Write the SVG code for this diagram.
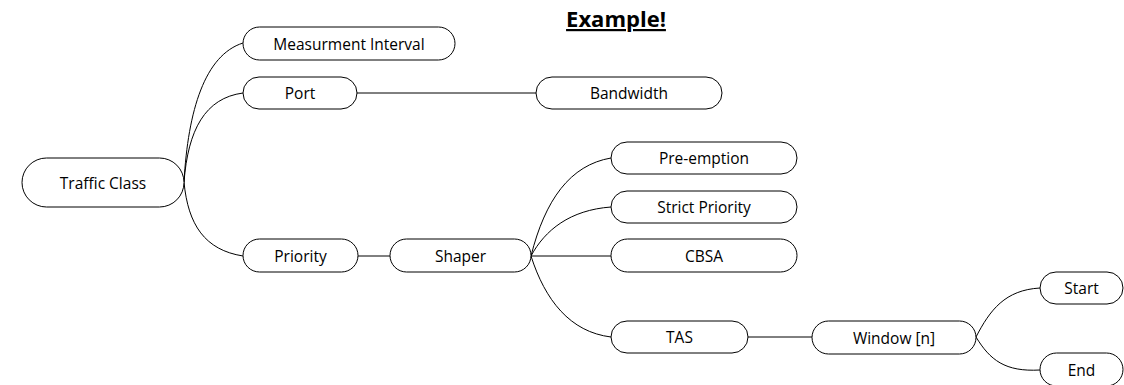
<svg xmlns="http://www.w3.org/2000/svg" width="1124" height="385" viewBox="0 0 1124 385">
  <style>
    .node rect { fill: #ffffff; stroke: #000000; stroke-width: 1; }
    .node text { font-family: "Open Sans", "Liberation Sans", sans-serif; font-size: 15.5px; fill: #000000; text-anchor: middle; dominant-baseline: central; }
    #connectors path, #connectors line { fill: none; stroke: #000000; stroke-width: 1; }
    .title { font-family: "Open Sans", "Liberation Sans", sans-serif; font-size: 22px; font-weight: bold; text-decoration: underline; text-anchor: middle; fill: #000000; }
  </style>
  <rect width="1124" height="385" fill="#ffffff"/>
  <text class="title" x="616" y="27">Example!</text>

  <g id="connectors">
    <!-- Traffic Class branches -->
    <path d="M184,182 C188,110 205,55 243,43"/>
    <path d="M184,182 C188,130 205,98 243,93"/>
    <path d="M184,182 C188,225 205,250 243,256"/>
    <line x1="357" y1="93" x2="536" y2="93"/>
    <line x1="358" y1="256" x2="390" y2="256"/>
    <!-- Shaper branches -->
    <path d="M531,256 C545,200 570,165 611,158"/>
    <path d="M531,256 C545,230 570,210 611,207"/>
    <line x1="531" y1="256" x2="611" y2="256"/>
    <path d="M531,256 C545,300 570,332 611,337"/>
    <line x1="748" y1="337" x2="812" y2="337"/>
    <!-- Window branches -->
    <path d="M976,337 C990,310 1005,290 1040,288"/>
    <path d="M976,337 C990,360 1005,372 1040,370"/>
  </g>

  <g id="traffic-class" class="node"><rect x="22" y="158" width="162" height="49" rx="24.5"/><text x="103" y="182.5">Traffic Class</text></g>
  <g id="measurement-interval" class="node"><rect x="243" y="27" width="212" height="33" rx="16.5"/><text x="349" y="43.5">Measurment Interval</text></g>
  <g id="port" class="node"><rect x="243" y="77" width="114" height="32" rx="16"/><text x="300" y="93">Port</text></g>
  <g id="bandwidth" class="node"><rect x="536" y="77" width="186" height="32" rx="16"/><text x="629" y="93">Bandwidth</text></g>
  <g id="priority" class="node"><rect x="243" y="239" width="115" height="33" rx="16.5"/><text x="300.5" y="255.5">Priority</text></g>
  <g id="shaper" class="node"><rect x="390" y="239" width="141" height="33" rx="16.5"/><text x="460.5" y="255.5">Shaper</text></g>
  <g id="pre-emption" class="node"><rect x="611" y="142" width="186" height="32" rx="16"/><text x="704" y="158">Pre-emption</text></g>
  <g id="strict-priority" class="node"><rect x="611" y="191" width="186" height="32" rx="16"/><text x="704" y="207">Strict Priority</text></g>
  <g id="cbsa" class="node"><rect x="611" y="239" width="186" height="33" rx="16.5"/><text x="704" y="255.5">CBSA</text></g>
  <g id="tas" class="node"><rect x="611" y="321" width="137" height="32" rx="16"/><text x="679.5" y="337">TAS</text></g>
  <g id="window" class="node"><rect x="812" y="321" width="164" height="33" rx="16.5"/><text x="894" y="337.5">Window [n]</text></g>
  <g id="start" class="node"><rect x="1040" y="272" width="83" height="32" rx="16"/><text x="1081.5" y="288">Start</text></g>
  <g id="end" class="node"><rect x="1040" y="353" width="83" height="33" rx="16.5"/><text x="1081.5" y="369.5">End</text></g>
</svg>
